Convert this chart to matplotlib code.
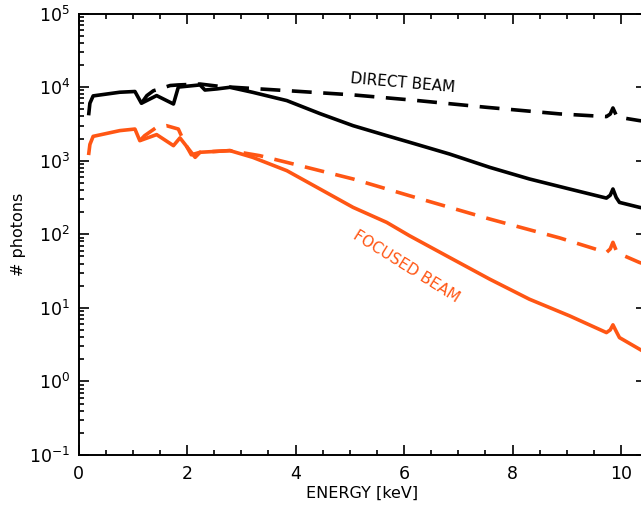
import matplotlib
matplotlib.use("Agg")
import matplotlib.pyplot as plt
from matplotlib.ticker import LogLocator, MultipleLocator, NullFormatter

# ---- data ----
direct_x = [0.19, 0.21, 0.27, 0.76, 1.04, 1.16, 1.44, 1.75, 1.84, 2.24, 2.33, 2.55, 2.79,
            3.21, 3.84, 4.45, 5.06, 5.68, 6.10, 6.84, 7.58, 8.31, 9.05, 9.73, 9.80,
            9.85, 9.91, 9.97, 10.34, 10.5]
direct_y = [4370, 6030, 7590, 8510, 8710, 6030, 7660, 5890, 10000, 10700, 9120, 9440, 9930,
            8490, 6550, 4360, 2990, 2190, 1780, 1230, 811, 564, 412, 310, 339,
            412, 316, 271, 232, 219]

direct_dash_x = [1.16, 1.26, 1.38, 1.69, 1.84, 2.24, 2.61, 3.84, 5.06, 6.20, 7.52, 8.87,
                 9.73, 9.80, 9.85, 9.91, 9.97, 10.34, 10.5]
direct_dash_y = [6030, 7660, 8910, 10500, 10700, 11000, 10200, 8950, 7830, 6610, 5310, 4320,
                 3970, 4300, 5200, 4150, 3880, 3500, 3390]

focused_x = [0.19, 0.21, 0.27, 0.76, 1.04, 1.13, 1.44, 1.75, 1.87, 2.15, 2.24, 2.79, 3.21,
             3.84, 4.45, 5.06, 5.68, 6.10, 6.84, 7.58, 8.31, 9.05, 9.73, 9.80, 9.85,
             9.91, 9.97, 10.34, 10.5]
focused_y = [1260, 1660, 2140, 2560, 2690, 1870, 2260, 1600, 2040, 1110, 1300, 1370, 1110,
             731, 412, 232, 145, 95.5, 48.3, 24.5, 13.1, 7.78, 4.61, 5.01, 5.87,
             4.79, 3.94, 2.74, 2.34]

focused_dash_x = [1.13, 1.22, 1.44, 1.62, 1.84, 1.95, 2.08, 2.24, 2.79, 3.34, 3.84, 5.06,
                  6.10, 7.58, 8.87, 9.73, 9.80, 9.85, 9.91, 9.97, 10.34, 10.5]
focused_dash_y = [1870, 2190, 2840, 2990, 2690, 1780, 1200, 1300, 1370, 1170, 948, 564,
                  334, 161, 89.1, 56.5, 63.1, 77.6, 60.3, 54.3, 41.3, 38.0]

x_ticks = [0, 2, 4, 6, 8, 10]
labels = {"direct": "DIRECT BEAM", "focused": "FOCUSED BEAM"}

BLACK = "#000000"
ORANGE = "#FF5614"

fig = plt.figure(figsize=(6.41, 5.07), dpi=100)
ax = fig.add_axes([78.5 / 641, 1 - 455 / 507, (645.5 - 78.5) / 641, (455 - 13.5) / 507])

lw = 2.6
ax.plot(direct_x, direct_y, color=BLACK, lw=lw, solid_joinstyle="round")
ax.plot(direct_dash_x, direct_dash_y, color=BLACK, lw=lw, dashes=(5.5, 3.2))
ax.plot(focused_x, focused_y, color=ORANGE, lw=lw, solid_joinstyle="round")
ax.plot(focused_dash_x, focused_dash_y, color=ORANGE, lw=lw, dashes=(5.5, 3.2))

ax.set_yscale("log")
ax.set_xlim(0, 10.45)
ax.set_ylim(1e-1, 1e5)

ax.set_xticks(x_ticks)
ax.set_xticklabels([str(t) for t in x_ticks])
ax.xaxis.set_minor_locator(MultipleLocator(0.5))
ax.yaxis.set_major_locator(LogLocator(base=10, numticks=10))
ax.yaxis.set_minor_locator(LogLocator(base=10, subs=range(2, 10), numticks=100))
ax.yaxis.set_minor_formatter(NullFormatter())

ax.tick_params(which="both", direction="in", top=True, right=True, labelsize=12.5, width=1.2)
ax.tick_params(which="major", length=7)
ax.tick_params(which="minor", length=3.5)
ax.tick_params(axis="x", pad=7)
ax.tick_params(axis="y", pad=6)
for s in ax.spines.values():
    s.set_linewidth(1.4)

ax.set_xlabel("ENERGY [keV]", fontsize=11.5, labelpad=2)
ax.set_ylabel("# photons", fontsize=11.5, labelpad=2)

ax.text(5.98, 11200, labels["direct"], fontsize=11, rotation=-5, ha="center", va="center",
        color=BLACK, rotation_mode="anchor")
ax.text(6.04, 36, labels["focused"], fontsize=11, rotation=-32, ha="center", va="center",
        color=ORANGE, rotation_mode="anchor")

fig.savefig("out.png", dpi=100)
